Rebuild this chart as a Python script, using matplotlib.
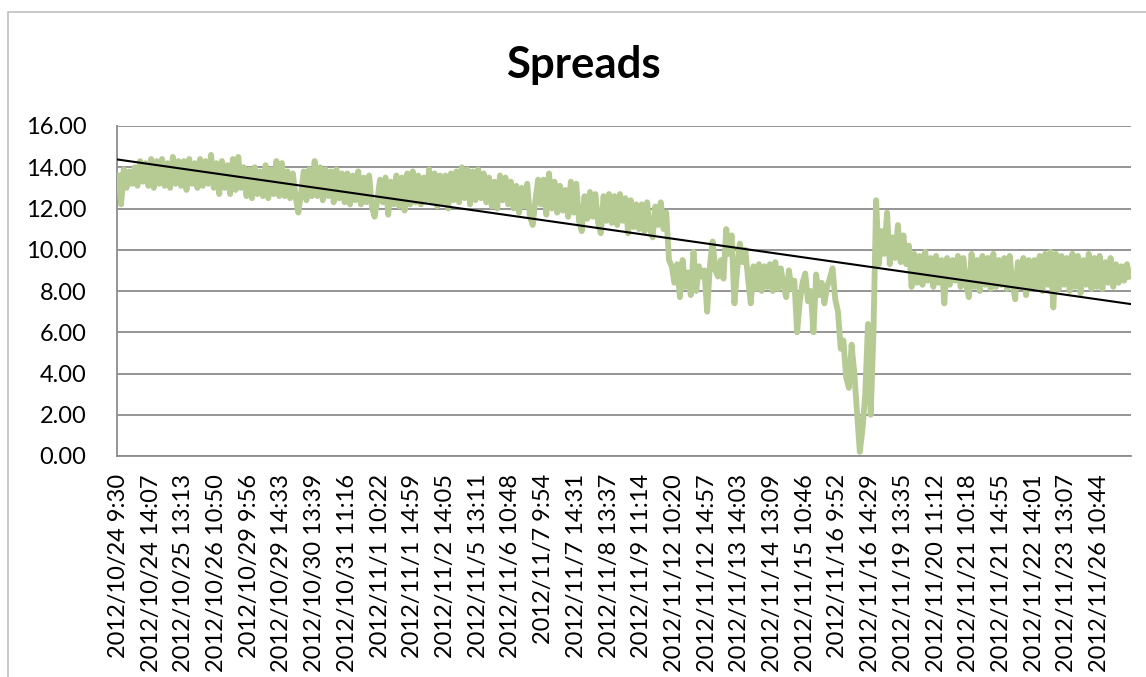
import matplotlib.pyplot as plt
import numpy as np
from matplotlib.patches import Rectangle

# spread values, one row per labelled category block (12 samples each)
spreads = [
    13.6, 12.2, 13.9, 13.0, 13.8, 13.2, 14.0, 13.1, 14.3, 13.3, 14.2, 13.1,
    14.4, 13.0, 14.3, 13.2, 14.4, 13.1, 14.2, 13.0, 14.5, 13.2, 14.3, 13.1,
    14.3, 12.9, 14.4, 13.2, 14.2, 13.0, 14.4, 13.1, 14.3, 13.2, 14.6, 13.0,
    14.2, 12.7, 14.3, 13.0, 14.1, 12.7, 14.4, 12.9, 14.5, 13.0, 14.0, 12.6,
    13.9, 12.5, 14.0, 12.7, 13.8, 12.6, 14.1, 12.5, 13.9, 12.7, 14.3, 12.6,
    14.2, 12.6, 13.8, 12.5, 13.7, 12.6, 11.8, 12.7, 13.8, 12.4, 13.9, 12.6,
    14.3, 12.6, 14.0, 12.4, 13.9, 12.6, 13.8, 12.3, 13.9, 12.5, 13.7, 12.3,
    13.7, 12.2, 13.6, 12.4, 13.8, 12.2, 13.5, 12.3, 13.6, 12.1, 11.6, 12.4,
    13.4, 12.3, 13.5, 11.7, 13.3, 12.2, 13.6, 12.1, 13.5, 11.9, 13.7, 12.2,
    13.8, 12.3, 13.6, 12.2, 13.5, 12.4, 13.9, 12.3, 13.7, 12.1, 13.6, 12.3,
    13.6, 12.0, 13.7, 12.4, 13.8, 12.3, 14.0, 12.5, 13.9, 12.2, 13.8, 12.4,
    13.9, 12.5, 13.7, 12.3, 13.5, 12.1, 13.3, 12.0, 13.6, 12.4, 13.5, 12.2,
    13.3, 12.0, 13.1, 11.8, 13.0, 12.1, 13.2, 11.6, 11.2, 12.4, 13.4, 12.2,
    13.4, 11.7, 13.7, 12.0, 13.3, 11.8, 13.1, 11.9, 12.9, 11.6, 13.3, 11.8,
    13.2, 11.4, 10.9, 12.6, 11.5, 12.8, 11.6, 12.7, 11.3, 10.8, 12.6, 11.4,
    12.7, 11.3, 12.6, 11.2, 12.7, 11.4, 12.5, 10.8, 12.4, 11.1, 12.2, 11.0,
    12.2, 10.9, 12.3, 11.0, 10.6, 12.1, 11.2, 12.3, 11.0, 11.8, 9.5, 9.2,
    8.4, 9.3, 7.7, 9.5, 8.2, 8.9, 7.8, 9.9, 8.0, 9.2, 8.7, 9.0,
    7.0, 9.2, 10.4, 9.0, 8.7, 9.5, 8.6, 11.0, 9.8, 10.7, 7.4, 9.0,
    10.3, 9.4, 10.0, 8.6, 7.4, 9.2, 8.1, 9.3, 8.0, 9.2, 8.2, 9.3,
    8.0, 9.4, 8.1, 9.1, 8.3, 7.7, 9.0, 8.1, 8.5, 6.0, 7.5, 8.4,
    8.85, 7.5, 8.0, 6.0, 8.8, 7.8, 8.4, 7.4, 8.2, 8.6, 9.1, 7.6,
    7.0, 5.2, 5.6, 3.8, 3.3, 5.4, 4.0, 2.1, 0.2, 1.3, 3.0, 6.4,
    2.0, 5.9, 12.4, 9.3, 10.9, 9.8, 11.8, 9.3, 10.6, 9.6, 11.2, 9.4,
    10.7, 9.3, 10.2, 8.2, 9.8, 8.4, 9.7, 8.3, 9.9, 8.5, 9.6, 8.2,
    9.7, 8.4, 9.5, 7.4, 9.6, 8.3, 9.5, 8.5, 9.7, 8.2, 9.6, 8.3,
    7.7, 9.8, 8.2, 9.5, 8.0, 9.7, 8.3, 9.6, 8.1, 9.8, 8.2, 9.5,
    8.3, 9.6, 8.1, 9.7, 8.4, 7.6, 9.4, 8.2, 9.6, 7.8, 9.5, 8.1,
    9.5, 8.2, 9.7, 8.0, 9.8, 8.3, 9.9, 7.2, 9.8, 8.1, 9.7, 8.3,
    9.6, 8.0, 9.8, 8.2, 9.7, 7.9, 9.5, 8.3, 9.8, 8.1, 9.6, 8.2,
    9.7, 8.1, 9.4, 8.4, 9.6, 8.2, 9.3, 8.4, 9.2, 8.5, 9.3, 8.7,
]

tick_labels = [
    "2012/10/24 9:30", "2012/10/24 14:07", "2012/10/25 13:13", "2012/10/26 10:50",
    "2012/10/29 9:56", "2012/10/29 14:33", "2012/10/30 13:39", "2012/10/31 11:16",
    "2012/11/1 10:22", "2012/11/1 14:59", "2012/11/2 14:05", "2012/11/5 13:11",
    "2012/11/6 10:48", "2012/11/7 9:54", "2012/11/7 14:31", "2012/11/8 13:37",
    "2012/11/9 11:14", "2012/11/12 10:20", "2012/11/12 14:57", "2012/11/13 14:03",
    "2012/11/14 13:09", "2012/11/15 10:46", "2012/11/16 9:52", "2012/11/16 14:29",
    "2012/11/19 13:35", "2012/11/20 11:12", "2012/11/21 10:18", "2012/11/21 14:55",
    "2012/11/22 14:01", "2012/11/23 13:07", "2012/11/26 10:44",
]
label_step = 12

plt.rcParams['font.family'] = ['Lato', 'DejaVu Sans']

W, H = 1146, 677
fig = plt.figure(figsize=(W/100, H/100), dpi=100)
# chart border (cropped on the right and bottom)
fig.patches.append(Rectangle((8/W, -0.1), 1.2, 1.1 - 12/H, transform=fig.transFigure,
                             fill=False, edgecolor='#bfbfbf', lw=1.2))

ax = fig.add_axes([117/W, 1-456/H, (1131-117)/W, (456-126)/H])

y = np.array(spreads)
x = np.arange(len(y))
ax.plot(x, y, color='#b6ca93', lw=4.2, solid_joinstyle='round', zorder=3)

# linear trend line
slope, icpt = np.polyfit(x, y, 1)
xt = np.array([-0.5, len(y) - 0.5])
ax.plot(xt, slope*xt + icpt, color='black', lw=1.5, zorder=4)

ax.set_xlim(-0.5, len(y) - 0.5)
ax.set_ylim(0, 16)
ax.set_yticks(np.arange(0, 17, 2))
ax.set_yticklabels(['%.2f' % v for v in np.arange(0, 17, 2)])
ax.set_xticks(np.arange(len(tick_labels)) * label_step)
ax.set_xticklabels(tick_labels, rotation=90, ha='center', va='top')

ax.grid(axis='y', color='#8c8c8c', lw=1.3)
ax.set_axisbelow(True)
for s in ['top', 'right']:
    ax.spines[s].set_visible(False)
for s in ['left', 'bottom']:
    ax.spines[s].set_color('#8c8c8c')
    ax.spines[s].set_linewidth(1.3)
ax.tick_params(axis='y', length=0, pad=22, labelsize=17)
ax.tick_params(axis='x', length=0, pad=13, labelsize=17)

fig.text(583/W, 1-65/H, 'Spreads', ha='center', va='center', fontsize=31.5, fontweight='bold')

fig.savefig('out.png', dpi=100)
